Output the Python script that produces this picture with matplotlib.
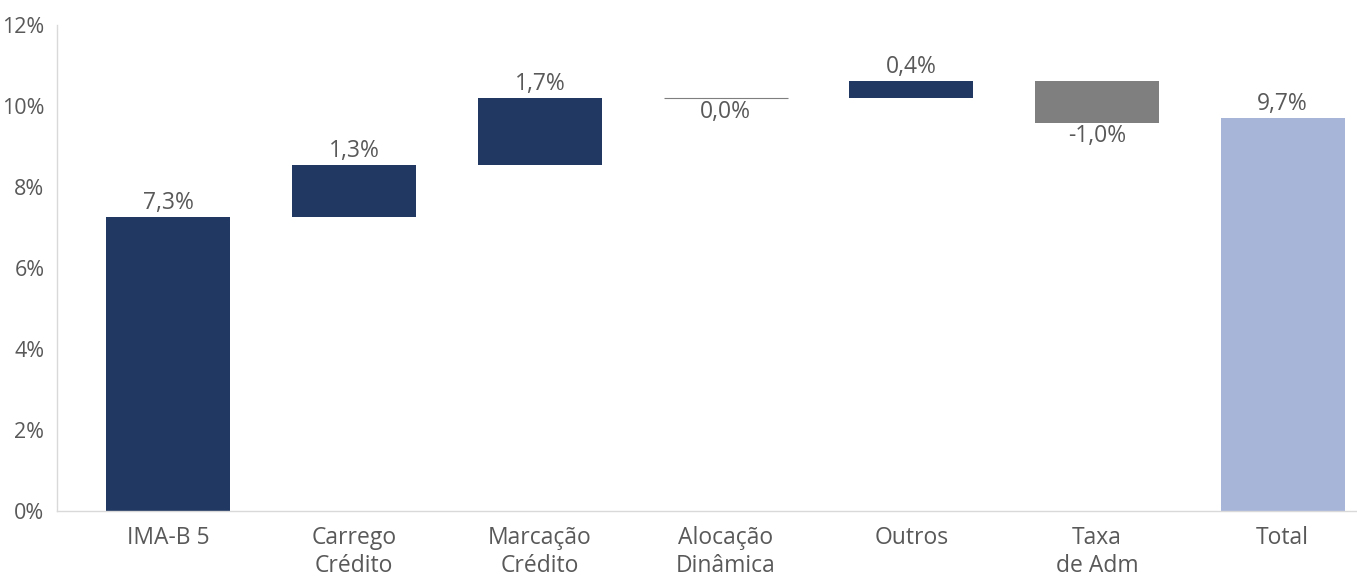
import numpy as np
import matplotlib
matplotlib.use("Agg")
import matplotlib.pyplot as plt

categories = ["IMA-B 5", "Carrego\nCrédito", "Marcação\nCrédito", "Alocação\nDinâmica",
              "Outros", "Taxa\nde Adm", "Total"]
deltas = [7.26, 1.28, 1.66, 0.0, 0.42, -1.03]
total = 9.7
yticks = [0, 2, 4, 6, 8, 10, 12]

navy = "#213862"
grey = "#7f7f7f"
light = "#a7b5d9"
txt = "#595959"

plt.rcParams['font.family'] = ['Open Sans', 'DejaVu Sans']
fs = 16.5

fig = plt.figure(figsize=(13.57, 5.8), dpi=100)
ax = fig.add_axes([0.042, 0.119, 0.958, 0.838])

ends = np.cumsum(deltas)
starts = ends - np.array(deltas)
x = np.arange(len(categories))
w = 0.667

def fmt(v):
    return f"{v:.1f}%".replace(".", ",")

for i, d in enumerate(deltas):
    if d > 0:
        ax.bar(x[i], d, bottom=starts[i], width=w, color=navy)
        ax.text(x[i], ends[i] + 0.04, fmt(d), ha="center", va="bottom",
                fontsize=fs, color=txt)
    elif d < 0:
        ax.bar(x[i], d, bottom=starts[i], width=w, color=grey)
        ax.text(x[i], ends[i] - 0.04, fmt(d), ha="center", va="top",
                fontsize=fs, color=txt)
    else:
        ax.bar(x[i], 0, bottom=starts[i], width=w, color=grey, edgecolor=grey, linewidth=0.8)
        ax.text(x[i], ends[i] - 0.06, fmt(d), ha="center", va="top",
                fontsize=fs, color=txt)

ax.bar(x[-1], total, width=w, color=light)
ax.text(x[-1], total + 0.04, fmt(total), ha="center", va="bottom",
        fontsize=fs, color=txt)

ax.set_xlim(-0.6, 6.4)
ax.set_ylim(0, 12)
ax.set_yticks(yticks)
ax.set_yticklabels([f"{t}%" for t in yticks])
ax.set_xticks(x)
ax.set_xticklabels(categories, linespacing=1.2)
ax.tick_params(axis="both", length=0, labelsize=fs, labelcolor=txt)
ax.tick_params(axis="y", pad=9, labelsize=15.5)
ax.tick_params(axis="x", pad=11)
for s in ["top", "right"]:
    ax.spines[s].set_visible(False)
for s in ["left", "bottom"]:
    ax.spines[s].set_color("#d9d9d9")
    ax.spines[s].set_linewidth(1)

fig.savefig("out.png", dpi=100)
